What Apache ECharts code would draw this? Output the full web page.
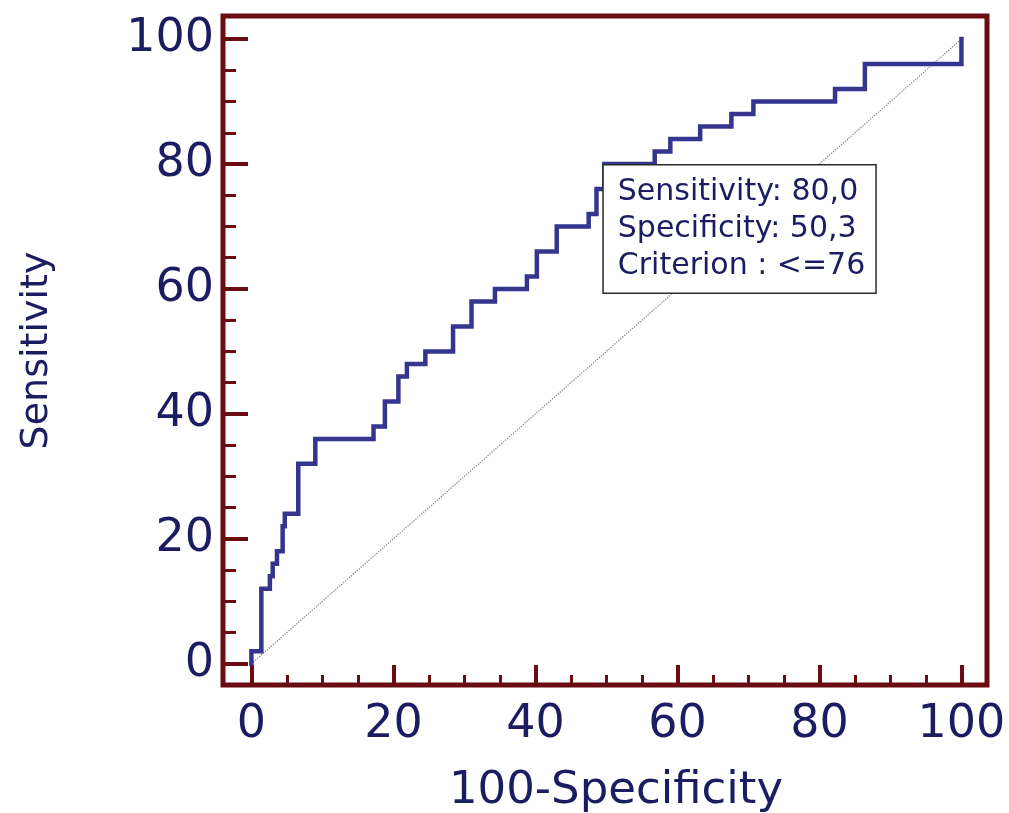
<!DOCTYPE html>
<html>
<head>
<meta charset="utf-8">
<title>ROC curve</title>
<script src="https://cdn.jsdelivr.net/npm/echarts@6/dist/echarts.min.js"></script>
<style>
  html, body { margin: 0; padding: 0; background: #ffffff; }
  #chart { width: 1009px; height: 813px; }
</style>
</head>
<body>
<div id="chart"></div>
<script>
// ROC curve: vertices of the empirical step curve (100-Specificity, Sensitivity)
const fprValues  = [0, 0, 1.4, 2.6, 3.0, 3.6, 4.4, 4.7, 6.6, 9.0, 17.2, 18.8, 20.7, 21.9, 24.5, 28.4, 31.0, 34.3,
                    38.8, 40.2, 43.0, 47.5, 48.6, 49.7, 56.8, 59.0, 63.2, 67.6, 70.7, 82.2, 86.4, 100];
const sensValues = [0, 2, 12, 14, 16, 18, 22, 24, 32, 36, 38, 42, 46, 48, 50, 54, 58, 60,
                    62, 66, 70, 72, 76, 80, 82, 84, 86, 88, 90, 92, 96, 100];

// chance line
const diagonalX = [0, 100];
const diagonalY = [0, 100];

// optimal cut-off point
const criterionSensitivity = 80.0;
const criterionSpecificity = 50.3;
const criterionLabel = '<=76';

// axis ticks
const majorTicks = [0, 20, 40, 60, 80, 100];
const minorTicks = [5, 10, 15, 25, 30, 35, 45, 50, 55, 65, 70, 75, 85, 90, 95];

const frameColor = '#6b0b12';
const textColor = '#1c1c62';
const curveColor = '#35358f';
const font = 'DejaVu Sans';

const fmt = v => v.toFixed(1).replace('.', ',');

const curveData = fprValues.map((x, i) => [x, sensValues[i]]);
const diagonalData = diagonalX.map((x, i) => [x, diagonalY[i]]);

const xRange = { min: -4, max: 103.6 };
const yRange = { min: -3.4, max: 103.7 };

const chart = echarts.init(document.getElementById('chart'), null, { renderer: 'canvas' });

chart.setOption({
  animation: false,
  backgroundColor: '#ffffff',
  grid: {
    left: 223, top: 16, right: 22, bottom: 128,
    outerBoundsMode: 'none',
    containLabel: false,
    show: true,
    backgroundColor: 'transparent',
    borderColor: frameColor,
    borderWidth: 5
  },
  xAxis: [
    {
      type: 'value', position: 'bottom', ...xRange,
      axisLine: { show: false, onZero: false },
      splitLine: { show: false },
      axisTick: { show: true, inside: true, length: 20, customValues: majorTicks,
                  lineStyle: { color: frameColor, width: 4 } },
      axisLabel: { customValues: majorTicks, margin: 17, fontSize: 46, fontFamily: font, color: textColor },
      name: '100-Specificity',
      nameLocation: 'middle',
      nameGap: 84,
      nameTextStyle: { fontSize: 45, fontFamily: font, color: textColor, padding: [0, 0, 0, 22] }
    },
    {
      type: 'value', position: 'bottom', ...xRange,
      axisLine: { show: false, onZero: false },
      splitLine: { show: false },
      axisLabel: { show: false },
      axisTick: { show: true, inside: true, length: 10, customValues: minorTicks,
                  lineStyle: { color: frameColor, width: 3 } }
    }
  ],
  yAxis: [
    {
      type: 'value', position: 'left', ...yRange,
      axisLine: { show: false, onZero: false },
      splitLine: { show: false },
      axisTick: { show: true, inside: true, length: 25, customValues: majorTicks,
                  lineStyle: { color: frameColor, width: 4 } },
      axisLabel: { customValues: majorTicks, margin: 9, fontSize: 46, fontFamily: font, color: textColor },
      name: 'Sensitivity',
      nameLocation: 'middle',
      nameGap: 167,
      nameTextStyle: { fontSize: 38, fontFamily: font, color: textColor }
    },
    {
      type: 'value', position: 'left', ...yRange,
      axisLine: { show: false, onZero: false },
      splitLine: { show: false },
      axisLabel: { show: false },
      axisTick: { show: true, inside: true, length: 13, customValues: minorTicks,
                  lineStyle: { color: frameColor, width: 3 } }
    }
  ],
  series: [
    {
      name: 'reference',
      type: 'line',
      z: 1,
      xAxisIndex: 0, yAxisIndex: 0,
      data: diagonalData,
      showSymbol: false,
      silent: true,
      lineStyle: { color: '#8a8a8a', width: 1.3, type: 'dotted' }
    },
    {
      name: 'ROC',
      type: 'line',
      z: 3,
      xAxisIndex: 0, yAxisIndex: 0,
      data: curveData,
      step: 'end',
      showSymbol: false,
      silent: true,
      lineStyle: { color: curveColor, width: 4.5, cap: 'square', join: 'miter' },
      markPoint: {
        silent: true,
        symbol: 'circle',
        symbolSize: 1,
        itemStyle: { color: 'rgba(0,0,0,0)' },
        data: [{
          coord: [100 - criterionSpecificity, criterionSensitivity],
          label: {
            show: true,
            position: [0, 2],
            align: 'left',
            verticalAlign: 'top',
            formatter: 'Sensitivity: ' + fmt(criterionSensitivity) +
                       '\nSpecificity: ' + fmt(criterionSpecificity) +
                       '\nCriterion : ' + criterionLabel,
            fontSize: 30,
            lineHeight: 37,
            fontFamily: font,
            color: textColor,
            backgroundColor: '#ffffff',
            borderColor: '#2a2a2a',
            borderWidth: 1.5,
            padding: [8, 10, 8, 14]
          }
        }]
      }
    }
  ]
});
</script>
</body>
</html>
